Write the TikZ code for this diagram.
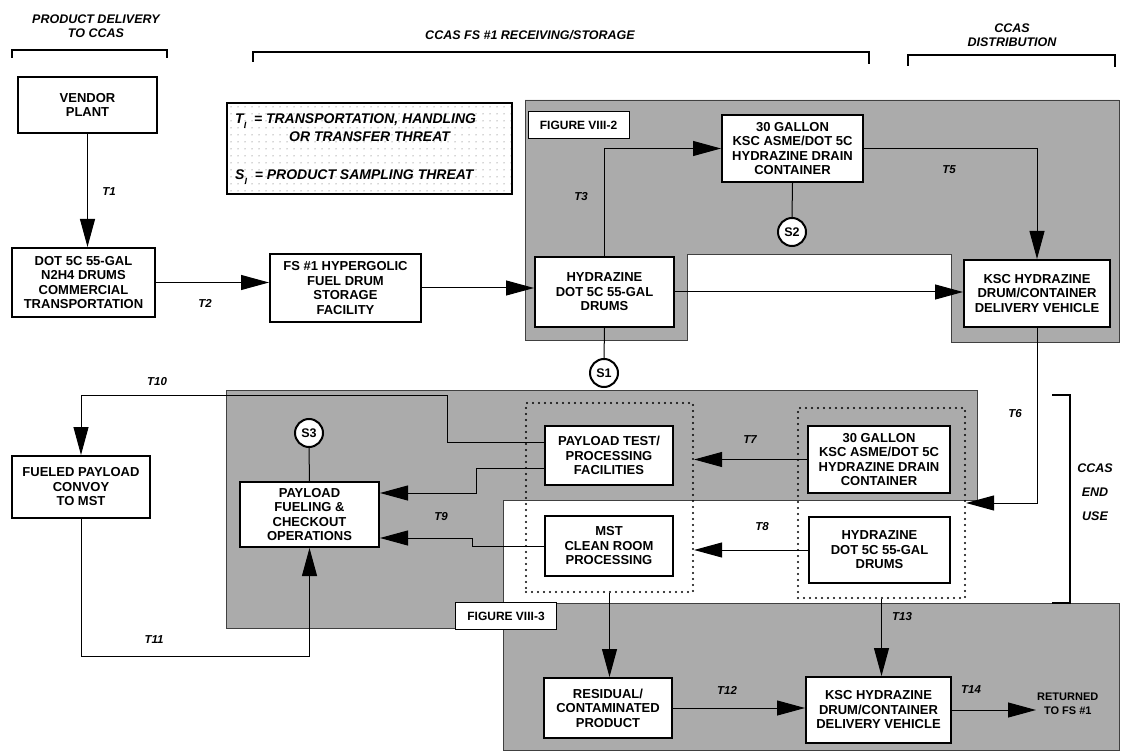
\documentclass[tikz,border=0pt]{standalone}
\usepackage{fontspec}
\setmainfont{Liberation Sans}
\usetikzlibrary{arrows.meta}
\usetikzlibrary{patterns.meta}

\begin{document}
\begin{tikzpicture}[x=1pt, y=-1pt,
    box/.style={draw, line width=2pt, fill=white, align=center, inner sep=2pt,
        font=\fontsize{13}{14.5}\selectfont\bfseries},
    tag/.style={font=\fontsize{11.5}{12}\selectfont\bfseries\itshape},
    head/.style={align=center, font=\fontsize{12.5}{14}\selectfont\bfseries\itshape},
    key/.style={anchor=west, inner sep=0pt, font=\fontsize{14}{15}\selectfont\bfseries\itshape},
    figlabel/.style={draw, line width=1pt, fill=white, minimum width=101pt, minimum height=27pt,
        inner sep=2pt, font=\fontsize{12}{12}\selectfont\bfseries},
    sample/.style={circle, draw, line width=2pt, fill=white, minimum size=28pt, inner sep=0pt,
        font=\fontsize{12.5}{12}\selectfont\bfseries},
    group/.style={draw, line width=2.2pt, line cap=round, dash pattern=on 0pt off 6pt, inner sep=0pt},
    zone/.style={fill=black!33, draw=black!75, line width=0.8pt},
    bracket/.style={line width=2pt},
    link/.style={line width=1pt},
    flow/.style={line width=1pt, -{Triangle[length=28pt, width=15pt]}}]

\useasboundingbox (0,0) rectangle (1122,751);

\filldraw[zone] (525,100) -- (1119,100) -- (1119,342) -- (951,342) -- (951,254)
    -- (687,254) -- (687,340) -- (525,340) -- cycle;
\filldraw[zone] (226,390) -- (977,390) -- (977,500) -- (503,500) -- (503,603)
    -- (1119,603) -- (1119,750) -- (503,750) -- (503,628) -- (226,628) -- cycle;

\node[head] (hdelivery) at (96,26) {PRODUCT DELIVERY\\TO CCAS};
\draw[bracket] (12,58) -- (12,50) -- (167,50) -- (167,58);
\node[head] (hstorage) at (530,35) {CCAS FS \#1 RECEIVING/STORAGE};
\draw[bracket] (253,62) -- (253,52) -- (869,52) -- (869,64);
\node[head] (hdistrib) at (1012,35) {CCAS\\DISTRIBUTION};
\draw[bracket] (908,66) -- (908,55) -- (1115,55) -- (1115,67);
\node[head] (henduse) at (1095,492) {CCAS\\[10pt]END\\[10pt]USE};
\draw[bracket] (1052,395) -- (1070,395) -- (1070,603) -- (1052,603);

\node[draw, line width=2pt, pattern={Dots[distance=7pt, radius=0.5pt]}, pattern color=black!70,
    minimum width=285pt, minimum height=91pt, inner sep=0pt] (legend) at (369.5,148.5) {};
\node[key] (keyt) at (235,121) {T\raisebox{-5pt}{\fontsize{9}{9}\selectfont I}\ \ = TRANSPORTATION, HANDLING};
\node[key] (keyt2) at (289,137) {OR TRANSFER THREAT};
\node[key] (keys) at (235,177) {S\raisebox{-5pt}{\fontsize{9}{9}\selectfont I}\ \ = PRODUCT SAMPLING THREAT};

\node[figlabel] (figtwo) at (578.5,125) {FIGURE VIII-2};
\node[figlabel] (figthree) at (506,616) {FIGURE VIII-3};

\node[group, minimum width=167pt, minimum height=189pt] (testgroup) at (609.5,497.5) {};
\node[group, minimum width=167pt, minimum height=190pt] (endgroup) at (881.5,503) {};

\node[box, minimum width=139pt, minimum height=56pt] (vendor) at (87.5,105) {VENDOR\\PLANT};
\node[box, minimum width=143pt, minimum height=69pt] (carrier) at (83.5,282.5)
    {DOT 5C 55-GAL\\N2H4 DRUMS\\COMMERCIAL\\TRANSPORTATION};
\node[box, minimum width=151pt, minimum height=68pt] (storage) at (345.5,288)
    {FS \#1 HYPERGOLIC\\FUEL DRUM\\STORAGE\\FACILITY};
\node[box, minimum width=139pt, minimum height=70pt] (drums) at (604.5,292)
    {HYDRAZINE\\DOT 5C 55-GAL\\DRUMS};
\node[box, minimum width=141pt, minimum height=67pt] (drain) at (792.5,148.5)
    {30 GALLON\\KSC ASME/DOT 5C\\HYDRAZINE DRAIN\\CONTAINER};
\node[box, minimum width=146pt, minimum height=67pt] (vehicle) at (1037,293.5)
    {KSC HYDRAZINE\\DRUM/CONTAINER\\DELIVERY VEHICLE};
\node[sample] (s1) at (604,373) {S1};
\node[sample] (s2) at (792,232) {S2};

\node[box, minimum width=138pt, minimum height=62pt] (convoy) at (81,487)
    {FUELED PAYLOAD\\CONVOY\\TO MST};
\node[box, minimum width=139pt, minimum height=65pt] (fueling) at (309.5,514.5)
    {PAYLOAD\\FUELING \&\\CHECKOUT\\OPERATIONS};
\node[box, minimum width=128pt, minimum height=59pt] (test) at (609,455.5)
    {PAYLOAD TEST/\\PROCESSING\\FACILITIES};
\node[box, minimum width=128pt, minimum height=60pt] (clean) at (609,546)
    {MST\\CLEAN ROOM\\PROCESSING};
\node[box, minimum width=142pt, minimum height=67pt] (drainlow) at (879,459.5)
    {30 GALLON\\KSC ASME/DOT 5C\\HYDRAZINE DRAIN\\CONTAINER};
\node[box, minimum width=141pt, minimum height=66pt] (drumslow) at (879.5,550)
    {HYDRAZINE\\DOT 5C 55-GAL\\DRUMS};
\node[box, minimum width=128pt, minimum height=60pt] (residual) at (608,708)
    {RESIDUAL/\\CONTAMINATED\\PRODUCT};
\node[box, minimum width=145pt, minimum height=66pt] (vehiclelow) at (878.5,710)
    {KSC HYDRAZINE\\DRUM/CONTAINER\\DELIVERY VEHICLE};
\node[sample] (s3) at (309,433) {S3};
\node[anchor=west, align=center, inner sep=1pt, font=\fontsize{11}{14}\selectfont\bfseries]
    (back) at (1036,704) {RETURNED\\TO FS \#1};

\draw[flow] (vendor.south) -- (vendor.south |- carrier.north);
\draw[flow] (carrier.east) -- (carrier.east -| storage.west);
\draw[flow] (storage.east) -- (storage.east -| drums.west);
\draw[flow] (drums.north) |- (drain.west);
\draw[link] (drain.south) -- (s2.north);
\draw[flow] (drain.east) -| (vehicle.north);
\draw[flow] (drums.east) -- (drums.east -| vehicle.west);
\draw[link] (drums.south) -- (s1.north);
\draw[flow] (vehicle.south) |- (endgroup.east);
\draw[flow] (drainlow.west) -- (drainlow.west -| testgroup.east);
\draw[flow] (drumslow.west) -- (drumslow.west -| testgroup.east);
\draw[flow] ([yshift=-12.5pt]test.west) -- ++(-68,0) |- ([yshift=21.5pt]fueling.east);
\draw[flow] (clean.west) -- ++(-72,0) |- ([yshift=-23.5pt]fueling.east);
\draw[flow] ([yshift=13.5pt]test.west) -- ++(-97,0) -- ++(0,-47) -| (convoy.north);
\draw[flow] (convoy.south) -- ++(0,137) -| (fueling.south);
\draw[link] (fueling.north) -- (s3.south);
\draw[flow] (testgroup.south) -- (testgroup.south |- residual.north);
\draw[flow] (residual.east) -- (residual.east -| vehiclelow.west);
\draw[flow] (endgroup.south) -- (endgroup.south |- vehiclelow.north);
\draw[flow] (vehiclelow.east) -- (vehiclelow.east -| back.west);

\node[tag] (t1) at (109,192) {T1};
\node[tag] (t2) at (205,303) {T2};
\node[tag] (t3) at (581,197) {T3};
\node[tag] (t5) at (949,170) {T5};
\node[tag] (t6) at (1015,414) {T6};
\node[tag] (t7) at (750,440) {T7};
\node[tag] (t8) at (762,527) {T8};
\node[tag] (t9) at (441,517) {T9};
\node[tag] (t10) at (157,382) {T10};
\node[tag] (t11) at (154,640) {T11};
\node[tag] (t12) at (727,690) {T12};
\node[tag] (t13) at (902,617) {T13};
\node[tag] (t14) at (971,690) {T14};
\end{tikzpicture}
\end{document}
